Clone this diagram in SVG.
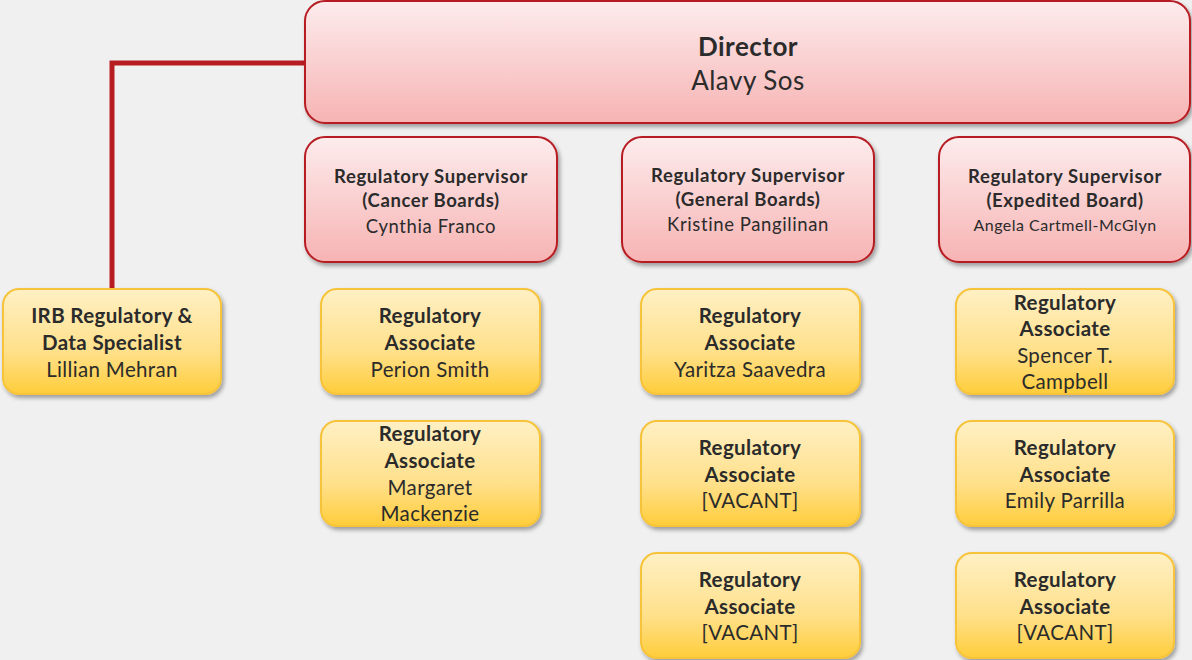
<svg xmlns="http://www.w3.org/2000/svg" width="1192" height="660" viewBox="0 0 1192 660">
<defs>
<linearGradient id="pink" x1="0" y1="0" x2="0" y2="1">
<stop offset="0" stop-color="#fdeced"/>
<stop offset="1" stop-color="#f7b3b3"/>
</linearGradient>
<linearGradient id="gold" x1="0" y1="0" x2="0" y2="1">
<stop offset="0" stop-color="#fff0c4"/>
<stop offset="0.6" stop-color="#ffe08a"/>
<stop offset="1" stop-color="#ffcd3a"/>
</linearGradient>
<filter id="sh" x="-10%" y="-10%" width="125%" height="130%">
<feDropShadow dx="2" dy="3" stdDeviation="2" flood-color="#000" flood-opacity="0.35"/>
</filter>
<style>
.p{fill:url(#pink);stroke:#b71c22;stroke-width:2;filter:url(#sh)}
.y{fill:url(#gold);stroke:#f6c33a;stroke-width:2;filter:url(#sh)}
text{font-family:Lato,"Liberation Sans",sans-serif;fill:#2b2b2b;text-anchor:middle}
.b{font-weight:bold}
.d{font-size:26px;letter-spacing:0.5px}
.s{font-size:18.5px;letter-spacing:0.6px}
.a{font-size:20.5px;letter-spacing:0.35px}
.n{font-size:16px;letter-spacing:0.5px}
</style>
</defs>
<rect width="1192" height="660" fill="#f0f0f0"/>
<g id="connectors">
<polyline points="306,63 112,63 112,290" fill="none" stroke="#b71c22" stroke-width="5"/>
</g>
<g id="director">
<rect class="p" x="305" y="1" width="885" height="122" rx="20"/>
<text class="d b" x="748" y="56">Director</text>
<text class="d" x="748" y="90">Alavy Sos</text>
</g>
<g id="sup-cancer">
<rect class="p" x="305" y="137" width="252" height="125" rx="20"/>
<text class="s b" x="431" y="183">Regulatory Supervisor</text>
<text class="s b" x="431" y="207">(Cancer Boards)</text>
<text class="s" x="431" y="233">Cynthia Franco</text>
</g>
<g id="sup-general">
<rect class="p" x="622" y="137" width="252" height="125" rx="20"/>
<text class="s b" x="748" y="182">Regulatory Supervisor</text>
<text class="s b" x="748" y="206">(General Boards)</text>
<text class="s" x="748" y="231">Kristine Pangilinan</text>
</g>
<g id="sup-expedited">
<rect class="p" x="939" y="137" width="251" height="125" rx="20"/>
<text class="s b" x="1065" y="183">Regulatory Supervisor</text>
<text class="s b" x="1065" y="207">(Expedited Board)</text>
<text class="n" x="1065" y="231">Angela Cartmell-McGlyn</text>
</g>
<g id="irb-specialist">
<rect class="y" x="3" y="289" width="218" height="105" rx="16"/>
<text class="a b" x="112" y="323">IRB Regulatory &amp;</text>
<text class="a b" x="112" y="350">Data Specialist</text>
<text class="a" x="112" y="377">Lillian Mehran</text>
</g>
<g id="ra-perion">
<rect class="y" x="321" y="289" width="219" height="105" rx="16"/>
<text class="a b" x="430" y="323">Regulatory</text>
<text class="a b" x="430" y="350">Associate</text>
<text class="a" x="430" y="377">Perion Smith</text>
</g>
<g id="ra-margaret">
<rect class="y" x="321" y="421" width="219" height="105" rx="16"/>
<text class="a b" x="430" y="441">Regulatory</text>
<text class="a b" x="430" y="468">Associate</text>
<text class="a" x="430" y="495">Margaret</text>
<text class="a" x="430" y="521">Mackenzie</text>
</g>
<g id="ra-yaritza">
<rect class="y" x="641" y="289" width="219" height="105" rx="16"/>
<text class="a b" x="750" y="323">Regulatory</text>
<text class="a b" x="750" y="350">Associate</text>
<text class="a" x="750" y="377">Yaritza Saavedra</text>
</g>
<g id="ra-vacant-g1">
<rect class="y" x="641" y="421" width="219" height="105" rx="16"/>
<text class="a b" x="750" y="455">Regulatory</text>
<text class="a b" x="750" y="482">Associate</text>
<text class="a" x="750" y="508">[VACANT]</text>
</g>
<g id="ra-vacant-g2">
<rect class="y" x="641" y="553" width="219" height="105" rx="16"/>
<text class="a b" x="750" y="587">Regulatory</text>
<text class="a b" x="750" y="614">Associate</text>
<text class="a" x="750" y="640">[VACANT]</text>
</g>
<g id="ra-spencer">
<rect class="y" x="956" y="289" width="218" height="105" rx="16"/>
<text class="a b" x="1065" y="310">Regulatory</text>
<text class="a b" x="1065" y="336">Associate</text>
<text class="a" x="1065" y="363">Spencer T.</text>
<text class="a" x="1065" y="389">Campbell</text>
</g>
<g id="ra-emily">
<rect class="y" x="956" y="421" width="218" height="105" rx="16"/>
<text class="a b" x="1065" y="455">Regulatory</text>
<text class="a b" x="1065" y="482">Associate</text>
<text class="a" x="1065" y="508">Emily Parrilla</text>
</g>
<g id="ra-vacant-e">
<rect class="y" x="956" y="553" width="218" height="105" rx="16"/>
<text class="a b" x="1065" y="587">Regulatory</text>
<text class="a b" x="1065" y="614">Associate</text>
<text class="a" x="1065" y="640">[VACANT]</text>
</g>
</svg>
